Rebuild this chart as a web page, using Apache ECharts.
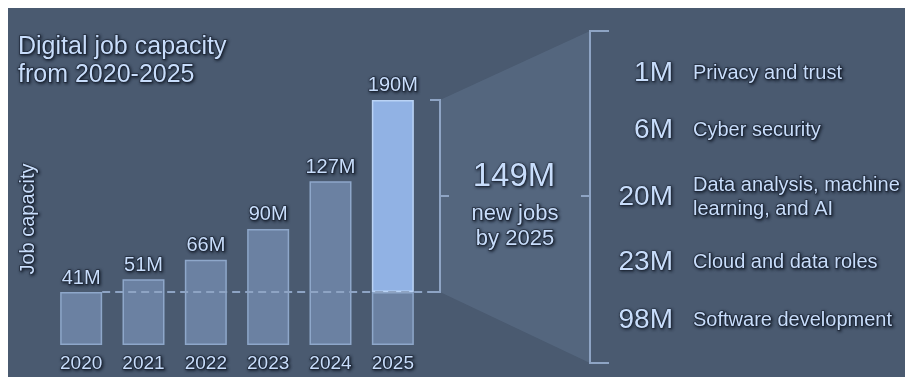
<!DOCTYPE html>
<html lang="en">
<head>
<meta charset="UTF-8">
<title>Digital job capacity</title>
<script src="https://cdn.jsdelivr.net/npm/echarts@6/dist/echarts.min.js"></script>
<style>html,body{margin:0;padding:0;background:#fff;}</style>
</head>
<body>
<div id="main" style="width:905px;height:379px"></div>
<script type="text/javascript">
  var years = ['2020', '2021', '2022', '2023', '2024', '2025'];
  var capacity = [41, 51, 66, 90, 127, 190];
  var roleValues = [1, 6, 20, 23, 98];
  var roleNames = ['Privacy and trust', 'Cyber security', 'Data analysis, machine\nlearning, and AI', 'Cloud and data roles', 'Software development'];

  var last = capacity.length - 1;
  var newJobs = capacity[last] - capacity[0];

  var txtColor = '#c8ddfb';
  var font = '"Liberation Sans", Arial, sans-serif';
  var outline = 'rgba(32,42,58,0.75)';
  var shadow = {textShadowColor: 'rgba(20,28,42,0.9)', textShadowBlur: 3, textShadowOffsetX: 1, textShadowOffsetY: 1};
  // labels of series / axes
  var glow = Object.assign({textBorderColor: outline, textBorderWidth: 1.5}, shadow);

  // base bars (2025 shows only the 2020 level), plus the new-jobs part on top
  var baseData = capacity.map(function (v, i) {
    return i === last ? {value: capacity[0], label: {show: false}} : v;
  });
  var topData = capacity.map(function (v, i) {
    return i === last ? newJobs : null;
  });

  var myChart = echarts.init(document.getElementById('main'));
  var labelStyle = Object.assign({
    show: true, position: 'top', distance: 4, color: txtColor,
    fontSize: 20, fontFamily: font
  }, glow);

  var option = {
    backgroundColor: '#fff',
    animation: false,
    grid: {left: 50, right: 481, top: 87, bottom: 34},
    xAxis: {
      type: 'category', data: years,
      axisLine: {show: false}, axisTick: {show: false},
      axisLabel: Object.assign({color: txtColor, fontSize: 19, fontFamily: font, margin: 9}, glow)
    },
    yAxis: {type: 'value', min: 0, max: 200, show: false},
    series: [
      {
        type: 'bar', stack: 'jobs', barWidth: 42, z: 3,
        itemStyle: {color: '#6b81a2', borderColor: '#8ea7ca', borderWidth: 1.5},
        label: Object.assign({}, labelStyle, {formatter: '{c}M'}),
        data: baseData
      },
      {
        type: 'bar', stack: 'jobs', barWidth: 42, z: 3,
        itemStyle: {color: '#91b2e4', borderColor: '#bad3f5', borderWidth: 1.5},
        label: Object.assign({}, labelStyle, {formatter: function () { return capacity[last] + 'M'; }}),
        data: topData
      }
    ]
  };
  myChart.setOption(option);

  // positions taken from the chart's own scales
  var y0 = myChart.convertToPixel({yAxisIndex: 0}, capacity[0]);
  var yMax = myChart.convertToPixel({yAxisIndex: 0}, capacity[last]);
  var x0 = myChart.convertToPixel({xAxisIndex: 0}, years[0]) + 21;
  var xL = 440, xR = 590, yTop = 31, yBot = 363;
  var yMid = (y0 + yMax) / 2;
  var lineCol = '#8ea4c4';

  function tstyle(t, size, align, extra) {
    return Object.assign({
      text: t, x: 0, y: 0, fill: txtColor, stroke: outline, lineWidth: 1.5,
      font: size + 'px ' + font, fontSize: size, fontFamily: font,
      align: align, textAlign: align, verticalAlign: 'middle', textVerticalAlign: 'middle'
    }, shadow, extra || {});
  }
  function text(t, x, y, size, align, extra) {
    return {type: 'text', z: 10, x: x, y: y, style: tstyle(t, size, align, extra)};
  }

  var rowY = [73, 130, 197, 262, 320];
  var graphics = [
    {type: 'rect', z: -10, silent: true, shape: {x: 8, y: 8, width: 897, height: 369}, style: {fill: '#4a5a70'}},
    {type: 'polygon', z: 1, shape: {points: [[xL, yMax], [xR, yTop], [xR, yBot], [xL, y0]]},
      style: {fill: 'rgba(135,160,195,0.18)'}},
    {type: 'polyline', z: 5, shape: {points: [[xL - 10, yMax], [xL, yMax], [xL, y0], [xL - 10, y0]]},
      style: {stroke: lineCol, lineWidth: 2, fill: null}},
    {type: 'polyline', z: 5, shape: {points: [[xR + 19, yTop], [xR, yTop], [xR, yBot], [xR + 19, yBot]]},
      style: {stroke: lineCol, lineWidth: 2, fill: null}},
    {type: 'line', z: 5, shape: {x1: xL, y1: yMid, x2: xL + 9, y2: yMid}, style: {stroke: lineCol, lineWidth: 2}},
    {type: 'line', z: 5, shape: {x1: xR - 9, y1: yMid, x2: xR, y2: yMid}, style: {stroke: lineCol, lineWidth: 2}},
    {type: 'line', z: 6, shape: {x1: x0, y1: y0, x2: xL - 10, y2: y0},
      style: {stroke: lineCol, lineWidth: 2, lineDash: [8, 5]}},
    text('Digital job capacity\nfrom 2020-2025', 18, 61, 25, 'left', {lineHeight: 28}),
    {type: 'text', z: 10, x: 28, y: 219, rotation: Math.PI / 2, style: tstyle('Job capacity', 20, 'center')},
    text(newJobs + 'M', 514, 177, 33, 'center', {lineWidth: 1}),
    text('new jobs\nby 2025', 515, 226, 22, 'center', {lineHeight: 25})
  ];
  roleValues.forEach(function (v, i) {
    graphics.push(text(v + 'M', 673, rowY[i], 28, 'right', {lineWidth: 1}));
    graphics.push(text(roleNames[i], 693, rowY[i], 20, 'left', {lineHeight: 24}));
  });
  myChart.setOption({graphic: graphics});
</script>
</body>
</html>
